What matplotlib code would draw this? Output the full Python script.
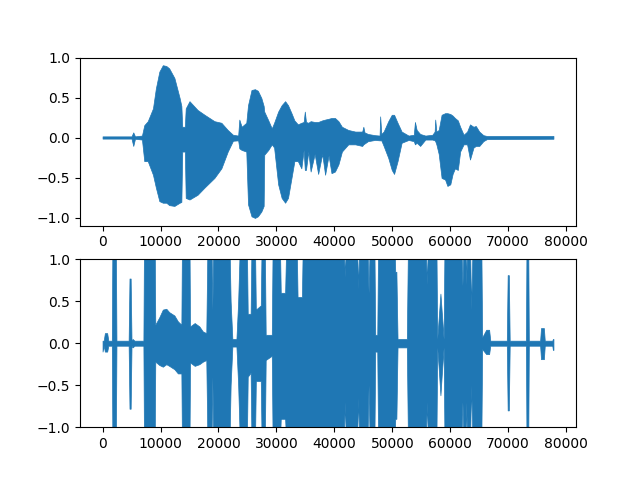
import numpy as np
import matplotlib
matplotlib.use('Agg')
import matplotlib.pyplot as plt

# envelope of the raw signal (sample index, upper, lower)
top_x = [0, 5000, 5300, 5600, 6800, 7200, 7800, 8700, 9200, 9800,
         10400, 11000, 11500, 12400, 13300, 13600, 13750, 14200, 14350, 15000,
         16400, 17600, 19300, 20500, 21600, 22500, 23400, 23600, 24000, 24800,
         25100, 25700, 26300, 26800, 27400, 27800, 27900, 28600, 29200, 29600,
         30300, 30900, 31500, 32000, 32600, 33100, 33700, 34300, 34700, 34900,
         35100, 35500, 35900, 36600, 37200, 37900, 38400, 39000, 39500, 40100,
         40700, 41300, 42400, 43600, 44800, 45000, 45200, 45800, 47000, 47800,
         47900, 48100, 48500, 49300, 49900, 50300, 50900, 51600, 52800, 53700,
         53900, 54200, 54800, 55700, 56900, 57300, 57400, 57600, 58000, 58500,
         59100, 59500, 60000, 60400, 60800, 61300, 61700, 62300, 62900, 63400,
         64000, 64400, 65000, 65700, 66300, 77800]
top_hi = [0.02, 0.02, 0.07, 0.02, 0.03, 0.16, 0.21, 0.37, 0.62, 0.83,
          0.91, 0.90, 0.87, 0.75, 0.50, 0.40, 0.14, 0.14, 0.37, 0.46,
          0.35, 0.29, 0.21, 0.19, 0.10, 0.04, 0.03, 0.23, 0.14, 0.19,
          0.41, 0.60, 0.61, 0.59, 0.50, 0.40, 0.33, 0.22, 0.12, 0.19,
          0.33, 0.41, 0.46, 0.41, 0.31, 0.22, 0.17, 0.19, 0.20, 0.33,
          0.20, 0.19, 0.21, 0.20, 0.20, 0.22, 0.23, 0.24, 0.25, 0.25,
          0.21, 0.14, 0.10, 0.08, 0.08, 0.14, 0.07, 0.05, 0.035, 0.03,
          0.27, 0.05, 0.08, 0.21, 0.29, 0.29, 0.19, 0.08, 0.03, 0.04,
          0.20, 0.10, 0.05, 0.03, 0.04, 0.08, 0.23, 0.08, 0.10, 0.29,
          0.31, 0.31, 0.30, 0.28, 0.25, 0.22, 0.14, 0.04, 0.08, 0.17,
          0.14, 0.15, 0.08, 0.035, 0.025, 0.025]
top_lo = [-0.008, -0.008, -0.10, -0.01, -0.02, -0.29, -0.29, -0.46, -0.62, -0.79,
          -0.81, -0.81, -0.84, -0.85, -0.81, -0.80, -0.17, -0.17, -0.75, -0.77,
          -0.71, -0.62, -0.50, -0.38, -0.17, -0.035, -0.03, -0.13, -0.15, -0.17,
          -0.83, -0.98, -1.00, -0.98, -0.92, -0.85, -0.21, -0.15, -0.08, -0.12,
          -0.58, -0.75, -0.81, -0.75, -0.50, -0.29, -0.29, -0.38, -0.15, -0.40,
          -0.40, -0.17, -0.42, -0.20, -0.45, -0.20, -0.46, -0.22, -0.44, -0.42,
          -0.33, -0.17, -0.08, -0.08, -0.10, -0.08, -0.07, -0.04, -0.025, -0.03,
          -0.03, -0.03, -0.10, -0.25, -0.40, -0.45, -0.29, -0.06, -0.025, -0.04,
          -0.08, -0.06, -0.10, -0.02, -0.02, -0.03, -0.04, -0.08, -0.20, -0.50,
          -0.52, -0.60, -0.58, -0.45, -0.38, -0.40, -0.17, -0.08, -0.08, -0.27,
          -0.12, -0.10, -0.10, -0.04, -0.015, -0.01]

# envelope of the processed signal (clipped at +-1 by the axis)
bot_x = [0, 200, 400, 800, 1000, 1600, 1700, 2300, 2400, 4500,
         4650, 4850, 5000, 5200, 5500, 7050, 7150, 9000, 9100, 9800,
         10400, 11000, 11500, 12400, 13000, 13600, 13700, 15000, 15100, 15900,
         16700, 17300, 17900, 18100, 18800, 18950, 19100, 21900, 22100, 22400,
         23100, 23400, 23700, 24900, 25050, 25550, 25700, 26300, 26450, 27300,
         27450, 28000, 28150, 29200, 29350, 30600, 30750, 31500, 31700, 33500,
         33650, 34400, 34550, 41600, 41800, 42000, 43900, 44100, 44300, 45700,
         45900, 46100, 46900, 47050, 47400, 47550, 50400, 50500, 50700, 50900,
         52500, 52700, 55750, 55950, 56150, 57600, 57750, 58000, 58300, 58600,
         58850, 59000, 61900, 62100, 62300, 62600, 62750, 62900, 63400, 63600,
         63850, 65350, 65500, 66200, 66700, 66900, 69750, 69900, 70100, 70250,
         73050, 73150, 73450, 73550, 75500, 75650, 76150, 76300, 77600, 77700,
         77800]
bot_hi = [0.03, 0.03, 0.12, 0.12, 0.03, 0.03, 1.2, 1.2, 0.03, 0.03,
          0.77, 0.77, 0.03, 0.05, 0.03, 0.03, 1.2, 1.2, 0.22, 0.31,
          0.40, 0.41, 0.37, 0.33, 0.26, 0.22, 1.2, 1.2, 0.20, 0.24,
          0.20, 0.14, 0.12, 1.2, 1.2, 0.4, 1.2, 1.2, 0.5, 0.05,
          0.05, 0.5, 1.2, 1.2, 0.35, 0.35, 1.2, 1.2, 0.40, 0.45,
          1.2, 1.2, 0.10, 0.10, 1.2, 1.2, 0.60, 0.60, 1.2, 1.2,
          0.55, 0.55, 1.2, 1.2, 0.79, 1.2, 1.2, 0.65, 1.2, 1.2,
          0.60, 1.2, 1.2, 0.10, 0.10, 1.2, 1.2, 0.85, 0.85, 0.05,
          0.05, 1.2, 1.2, 0.70, 1.2, 1.2, 0.05, 0.30, 0.59, 0.30,
          0.05, 1.2, 1.2, 0.69, 1.2, 1.2, 0.70, 1.2, 1.2, 0.40,
          1.2, 1.2, 0.07, 0.16, 0.16, 0.03, 0.03, 0.81, 0.81, 0.03,
          0.03, 1.2, 1.2, 0.03, 0.03, 0.18, 0.18, 0.03, 0.03, 0.05,
          0.05]
bot_lo = [-0.10, -0.03, -0.10, -0.10, -0.03, -0.03, -1.2, -1.2, -0.03, -0.03,
          -0.78, -0.78, -0.03, -0.05, -0.03, -0.03, -1.2, -1.2, -0.22, -0.26,
          -0.28, -0.25, -0.27, -0.31, -0.36, -0.36, -1.2, -1.2, -0.23, -0.27,
          -0.25, -0.22, -0.20, -1.2, -1.2, -0.4, -1.2, -1.2, -0.5, -0.04,
          -0.04, -0.5, -1.2, -1.2, -0.40, -0.35, -1.2, -1.2, -0.45, -0.45,
          -1.2, -1.2, -0.20, -0.15, -1.2, -1.2, -0.90, -0.90, -1.2, -1.2,
          -1.2, -1.2, -1.2, -1.2, -0.70, -1.2, -1.2, -0.65, -1.2, -1.2,
          -0.50, -1.2, -1.2, -0.10, -0.10, -1.2, -1.2, -0.90, -0.90, -0.05,
          -0.05, -1.2, -1.2, -0.70, -1.2, -1.2, -0.05, -0.30, -0.62, -0.30,
          -0.05, -1.2, -1.2, -0.70, -1.2, -1.2, -0.70, -1.2, -1.2, -0.50,
          -1.2, -1.2, -0.07, -0.13, -0.13, -0.03, -0.03, -0.80, -0.80, -0.03,
          -0.03, -1.2, -1.2, -0.03, -0.03, -0.19, -0.19, -0.03, -0.03, -0.08,
          -0.08]

fig, (ax1, ax2) = plt.subplots(2, 1)

ax1.fill_between(top_x, top_lo, top_hi, color='C0', linewidth=0.5)
ax1.set_ylim(-1.096, 1.005)

ax2.fill_between(bot_x, bot_lo, bot_hi, color='C0', linewidth=0.5)
ax2.set_ylim(-1, 1)

fig.savefig('out.png')
